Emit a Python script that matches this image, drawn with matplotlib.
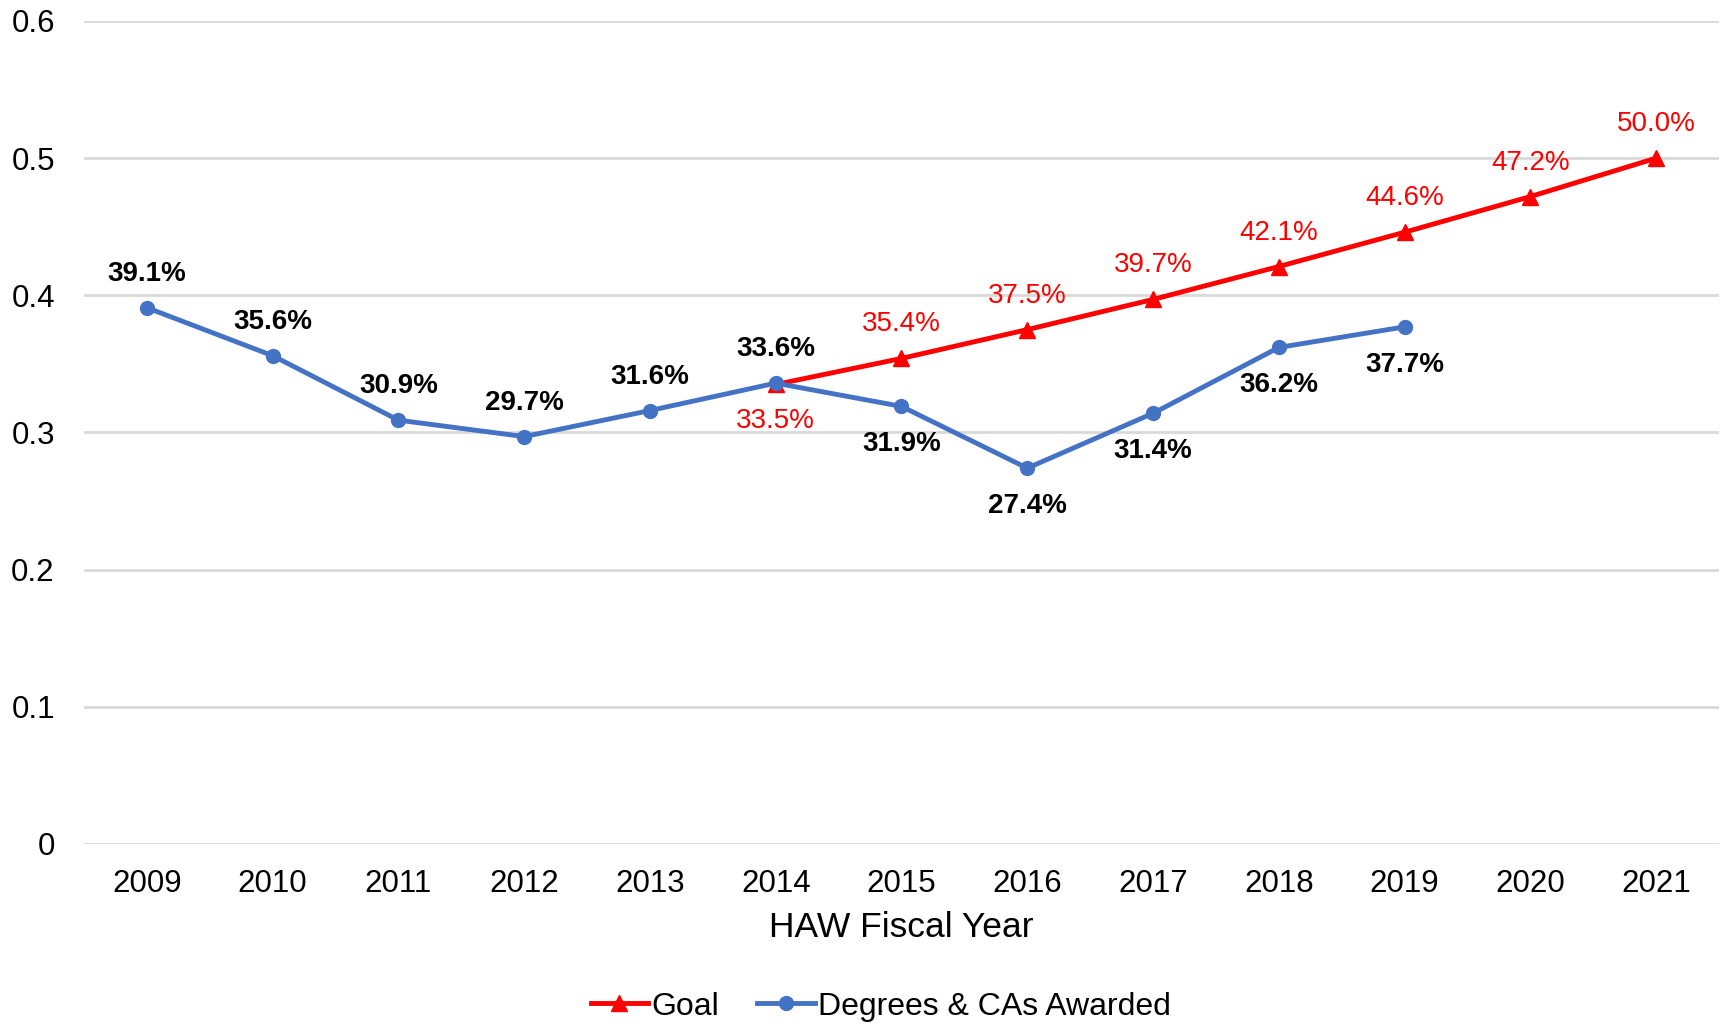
import matplotlib
matplotlib.use("Agg")
import matplotlib.pyplot as plt

plt.rcParams['font.family'] = ['Liberation Sans', 'DejaVu Sans']

years = ["2009", "2010", "2011", "2012", "2013", "2014", "2015", "2016", "2017", "2018", "2019", "2020", "2021"]
goal_years = ["2014", "2015", "2016", "2017", "2018", "2019", "2020", "2021"]
goal_values = [0.335, 0.354, 0.375, 0.397, 0.421, 0.446, 0.472, 0.500]
awarded_years = ["2009", "2010", "2011", "2012", "2013", "2014", "2015", "2016", "2017", "2018", "2019"]
awarded_values = [0.391, 0.356, 0.309, 0.297, 0.316, 0.336, 0.319, 0.274, 0.314, 0.362, 0.377]
y_ticks = [0, 0.1, 0.2, 0.3, 0.4, 0.5, 0.6]

fig = plt.figure(figsize=(17.27, 10.24), dpi=100)
ax = fig.add_axes([0.0486, 0.1758, 0.9468, 0.8037])

gx = [years.index(y) for y in goal_years]
ax_ = [years.index(y) for y in awarded_years]

red = "#FF0000"
blue = "#4472C4"

ax.plot(gx, goal_values, color=red, lw=3.5, marker='^', markersize=11, zorder=3, label="Goal")
ax.plot(ax_, awarded_values, color=blue, lw=3.5, marker='o', markersize=10, zorder=4,
        label="Degrees & CAs Awarded")

for x, v, y in zip(gx, goal_values, goal_years):
    off = -37 if y == "2014" else 34
    ax.annotate(f"{v*100:.1f}%", (x, v), xytext=(0, off), textcoords='offset pixels',
                ha='center', va='center', color=red, fontsize=20)

for x, v, y in zip(ax_, awarded_values, awarded_years):
    off = 34 if int(y) <= 2014 else -38
    ax.annotate(f"{v*100:.1f}%", (x, v), xytext=(0, off), textcoords='offset pixels',
                ha='center', va='center', color='black', fontsize=20, fontweight='bold')

ax.set_xlim(-0.5, len(years) - 0.5)
ax.set_ylim(0, 0.6)
ax.set_yticks(y_ticks)
ax.set_yticklabels(["0", "0.1", "0.2", "0.3", "0.4", "0.5", "0.6"])
ax.set_xticks(range(len(years)))
ax.set_xticklabels(years)
ax.tick_params(axis='both', length=0, labelsize=22.5)
ax.tick_params(axis='x', pad=18)
ax.tick_params(axis='y', pad=21)
ax.grid(axis='y', color='#D9D9D9', lw=2)
ax.set_axisbelow(True)
for s in ax.spines.values():
    s.set_visible(False)
ax.set_xlabel("HAW Fiscal Year", fontsize=25.5, labelpad=9)

fig.legend(loc='center', bbox_to_anchor=(0.51, 0.017), ncol=2, frameon=False, fontsize=23,
           handlelength=1.8, handletextpad=0.1, columnspacing=1.2)

fig.savefig("out.png", dpi=100, facecolor='white')
